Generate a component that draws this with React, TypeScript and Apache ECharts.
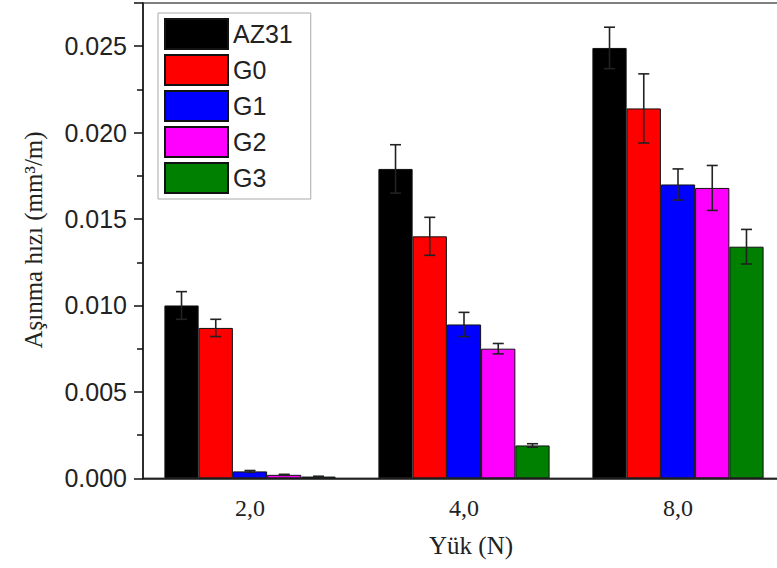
import React, { useEffect, useRef } from "react";
import * as echarts from "echarts";

const categories = ["2,0", "4,0", "8,0"];
const seriesNames = ["AZ31", "G0", "G1", "G2", "G3"];
const seriesColors = ["#000000", "#ff0000", "#0000ff", "#ff00ff", "#008000"];
const az31 = [0.01, 0.0179, 0.0249];
const g0 = [0.0087, 0.014, 0.0214];
const g1 = [0.0004, 0.0089, 0.017];
const g2 = [0.0002, 0.0075, 0.0168];
const g3 = [0.0001, 0.0019, 0.0134];
const az31Err = [0.0008, 0.0014, 0.0012];
const g0Err = [0.0005, 0.0011, 0.002];
const g1Err = [0.00005, 0.0007, 0.0009];
const g2Err = [0.00003, 0.0003, 0.0013];
const g3Err = [0.00002, 0.0001, 0.001];
const yTicks = [0, 0.005, 0.01, 0.015, 0.02, 0.025];

const values = [az31, g0, g1, g2, g3];
const errors = [az31Err, g0Err, g1Err, g2Err, g3Err];

export default function App() {
  const ref = useRef<HTMLDivElement>(null);
  useEffect(() => {
    if (!ref.current) return;
    const chart = echarts.init(ref.current, null, { renderer: "svg" });
    const errData: number[][] = [];
    values.forEach((arr, si) => {
      arr.forEach((v, ci) => {
        errData.push([ci, v, errors[si][ci], si]);
      });
    });
    const sans = "'Liberation Sans', Arial, sans-serif";
    const serif = "'Liberation Serif', 'Times New Roman', serif";
    chart.setOption({
      animation: false,
      backgroundColor: "#ffffff",
      grid: {
        left: 143,
        top: 3,
        width: 642,
        height: 475.3,
        outerBoundsMode: "none",
        containLabel: false,
        show: true,
        borderColor: "#555",
        borderWidth: 1.5,
        backgroundColor: "transparent",
      },
      legend: {
        data: seriesNames,
        orient: "vertical",
        left: 158,
        top: 13,
        itemWidth: 63,
        itemHeight: 30,
        itemGap: 4,
        icon: "rect",
        padding: [5, 18, 5, 6],
        borderColor: "#aaa",
        borderWidth: 1,
        textStyle: { fontSize: 25, fontFamily: sans, color: "#222", lineHeight: 30 },
      },
      xAxis: [
        {
          type: "category",
          data: categories,
          position: "bottom",
          axisLine: { lineStyle: { color: "#111", width: 1.5 } },
          axisTick: { alignWithLabel: true, length: 8, lineStyle: { color: "#111", width: 1.5 } },
          axisLabel: { fontSize: 24, fontFamily: serif, color: "#222", margin: 18 },
        },
        {
          type: "category",
          data: categories,
          position: "bottom",
          axisLine: { show: false },
          axisTick: { alignWithLabel: false, length: 5, lineStyle: { color: "#111", width: 1.5 } },
          axisLabel: { show: false },
        },
      ],
      yAxis: {
        type: "value",
        min: 0,
        max: 0.0275,
        interval: 0.005,
        axisLine: { show: true, lineStyle: { color: "#111", width: 1.5 } },
        axisTick: { show: true, length: 9, lineStyle: { color: "#111", width: 1.5 } },
        minorTick: { show: true, splitNumber: 2, length: 6, lineStyle: { color: "#111", width: 1.5 } },
        splitLine: { show: false },
        axisLabel: {
          fontSize: 25,
          fontFamily: sans,
          color: "#222",
          margin: 16,
          showMaxLabel: false,
          formatter: (v: number) => (yTicks.some((t) => Math.abs(t - v) < 1e-9) ? v.toFixed(3) : ""),
        },
      },
      graphic: [
        {
          type: "text",
          x: 33,
          y: 240,
          rotation: Math.PI / 2,
          style: {
            text: "Aşınma hızı (mm³/m)",
            font: `25px ${serif}`,
            fill: "#222",
            textAlign: "center",
            textVerticalAlign: "middle",
          },
        },
        {
          type: "text",
          x: 471,
          y: 545,
          style: {
            text: "Yük (N)",
            font: `25px ${serif}`,
            fill: "#222",
            textAlign: "center",
            textVerticalAlign: "middle",
          },
        },
      ],
      series: [
        ...seriesNames.map((name, i) => ({
          name,
          type: "bar",
          data: values[i],
          barGap: "0%",
          barCategoryGap: "20%",
          itemStyle: { color: seriesColors[i], borderColor: "#111", borderWidth: 1 },
          emphasis: { disabled: true },
        })),
        {
          type: "custom",
          name: "err",
          data: errData,
          encode: { x: 0, y: 1 },
          z: 5,
          silent: true,
          renderItem: (params: any, api: any) => {
            const ci = api.value(0);
            const v = api.value(1);
            const e = api.value(2);
            const si = api.value(3);
            const bandW = api.size([1, 0])[0];
            const barW = (bandW * 0.8) / 5;
            const c = api.coord([ci, v]);
            const x = c[0] + (si - 2) * barW;
            const top = api.coord([ci, v + e])[1];
            const bot = api.coord([ci, Math.max(0, v - e)])[1];
            const hw = 5.5;
            const style = { stroke: "#222", lineWidth: 1.6 };
            return {
              type: "group",
              children: [
                { type: "line", shape: { x1: x, y1: top, x2: x, y2: bot }, style },
                { type: "line", shape: { x1: x - hw, y1: top, x2: x + hw, y2: top }, style },
                { type: "line", shape: { x1: x - hw, y1: bot, x2: x + hw, y2: bot }, style },
              ],
            };
          },
        },
      ],
    });
    return () => chart.dispose();
  }, []);
  return (
    <div
      ref={ref}
      style={{ position: "fixed", left: 0, top: 0, width: 777, height: 568, background: "#fff" }}
    />
  );
}
